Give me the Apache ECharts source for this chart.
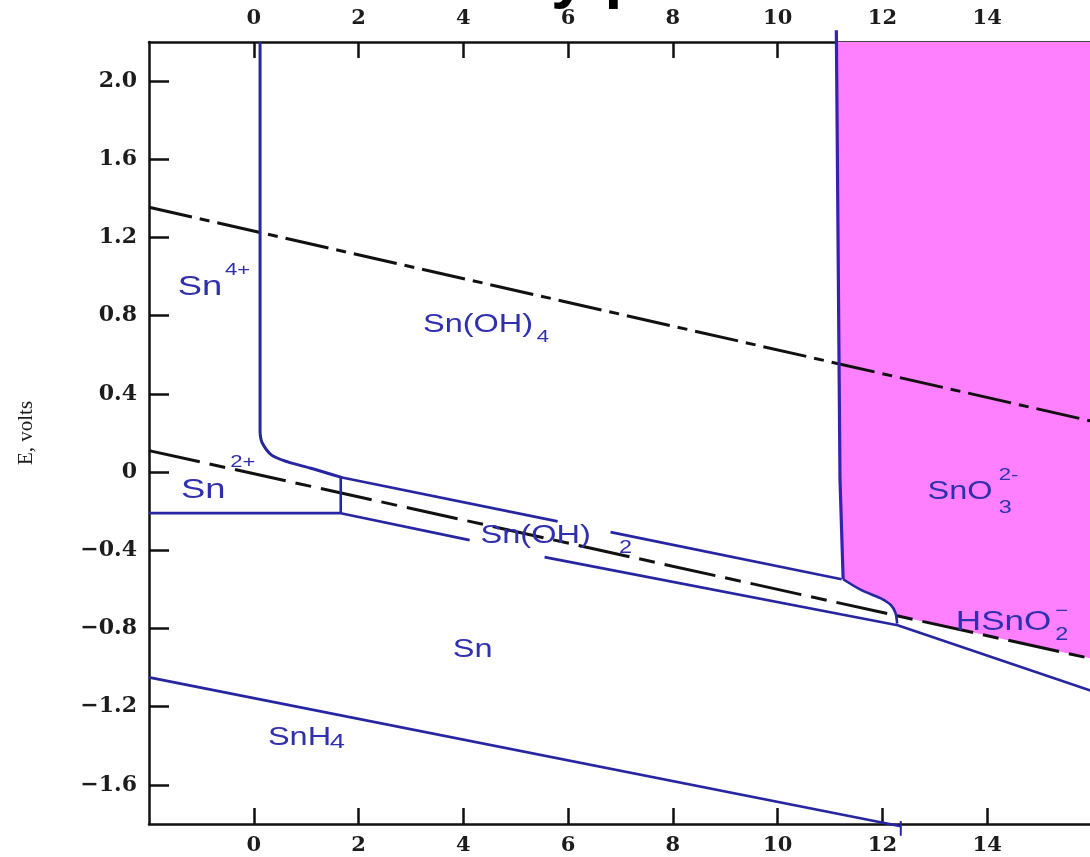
<!DOCTYPE html>
<html><head><meta charset="utf-8">
<script src="https://cdn.jsdelivr.net/npm/echarts@6/dist/echarts.min.js"></script>
<style>html,body{margin:0;padding:0;background:#fff}#c{width:1090px;height:857px}</style>
</head><body><div id="c"></div>
<script>
// ---- axis ticks ----
const xTicks = [0, 2, 4, 6, 8, 10, 12, 14];
const yTicks = [-1.6, -1.2, -0.8, -0.4, 0, 0.4, 0.8, 1.2, 1.6, 2.0];

// ---- water stability lines (pH, E) ----
const waterO2 = [[-2, 1.355], [16, 0.26]];
const waterH2 = [[-2, 0.11], [16, -0.955]];

// ---- tin boundaries (pH, E) ----
const sn4Vertical = [[0.12, 2.2], [0.12, 0.20]];
const sn4Curve = [[0.12, 0.20], [0.16, 0.15], [0.34, 0.087], [0.66, 0.051], [1.09, 0.020], [1.66, -0.026]];
const upperA = [[1.66, -0.026], [5.8, -0.252]];
const upperB = [[6.81, -0.307], [11.22, -0.548]];
const sn2Horizontal = [[-2, -0.21], [1.66, -0.21]];
const sn2Vertical = [[1.66, -0.21], [1.66, -0.02]];
const lowerA = [[1.66, -0.21], [4.12, -0.348]];
const lowerB = [[5.55, -0.435], [12.29, -0.783], [16, -1.12]];
const sno3Vertical = [[11.12, 2.26], [11.19, -0.04], [11.25, -0.548]];
const sno3Curve = [[11.25, -0.548], [11.6, -0.604], [11.96, -0.645], [12.16, -0.68], [12.25, -0.721], [12.28, -0.775]];
const snh4Line = [[-2, -1.05], [12.35, -1.811]];
const snh4Tick = [[12.35, -1.785], [12.35, -1.86]];

// ---- shaded SnO3(2-) / HSnO2(-) region ----
const pinkRegion = [[11.12, 2.2], [11.19, -0.04], [11.25, -0.548], [11.6, -0.604], [11.96, -0.645],
  [12.16, -0.68], [12.25, -0.721], [12.26, -0.734], [16, -0.955], [16, 2.2]];

// ---- region labels: pH, E, text, size ----
const textLabels = [
  [-1.45, 0.946, 'Sn', 28], [-0.55, 1.03, '4+', 17],
  [3.23, 0.752, 'Sn(OH)', 25], [5.4, 0.69, '4', 17],
  [-1.39, -0.092, 'Sn', 28], [-0.45, 0.051, '2+', 17],
  [4.33, -0.327, 'Sn(OH)', 25], [6.97, -0.389, '2', 18],
  [12.86, -0.102, 'SnO', 25], [14.22, -0.015, '2-', 17], [14.22, -0.184, '3', 18],
  [13.40, -0.767, 'HSnO', 27], [15.3, -0.71, '\u2212', 17], [15.3, -0.834, '2', 18],
  [3.80, -0.91, 'Sn', 25],
  [0.27, -1.36, 'SnH', 25], [1.45, -1.38, '4', 21]
];

const blue = '#2626a2';
const labelColor = '#3030ae';
const axisFont = {fontFamily: 'DejaVu Serif', fontWeight: 'bold', fontSize: 21, color: '#1c1c1c'};

function xAxisDef(pos, margin) {
  return {
    type: 'value', position: pos, min: -2, max: 16, interval: 2,
    axisLine: {show: true, onZero: false, lineStyle: {color: '#111', width: 2.5}},
    axisTick: {show: true, inside: true, length: 16, customValues: xTicks, lineStyle: {color: '#111', width: 2.5}},
    axisLabel: Object.assign({show: true, margin: margin, customValues: xTicks}, axisFont),
    splitLine: {show: false}
  };
}

function seg(data, extra) {
  return Object.assign({
    type: 'line', data: data, showSymbol: false, symbol: 'none', silent: true, z: 3,
    lineStyle: {color: blue, width: 2.6}, animation: false
  }, extra || {});
}

const chart = echarts.init(document.getElementById('c'), null, {renderer: 'canvas'});
chart.setOption({
  animation: false,
  backgroundColor: '#fff',
  grid: {left: 149, right: -2, top: 42, bottom: 33, containLabel: false, outerBoundsMode: 'none'},
  xAxis: [xAxisDef('bottom', 11), xAxisDef('top', 13)],
  yAxis: [{
    type: 'value', position: 'left', min: -1.8, max: 2.2,
    name: 'E, volts', nameLocation: 'middle', nameGap: 112, nameRotate: 90,
    nameTextStyle: {fontFamily: 'Liberation Serif', fontSize: 21, color: '#1c1c1c'},
    axisLine: {show: true, onZero: false, lineStyle: {color: '#111', width: 2.5}},
    axisTick: {show: true, inside: true, length: 20, customValues: yTicks, lineStyle: {color: '#111', width: 2.5}},
    axisLabel: Object.assign({
      show: true, margin: 12, customValues: yTicks,
      formatter: function (v) { return v === 0 ? '0' : (v < 0 ? '\u2212' + (-v).toFixed(1) : v.toFixed(1)); }
    }, axisFont, {fontSize: 22}),
    splitLine: {show: false}
  }],
  series: [
    {
      type: 'custom', data: [pinkRegion[0]], silent: true, z: 1, animation: false,
      renderItem: function (params, api) {
        return {type: 'polygon', shape: {points: pinkRegion.map(function (p) { return api.coord(p); })},
          style: {fill: '#ff80ff'}};
      }
    },
    seg(waterO2, {z: 2, lineStyle: {color: '#111', width: 3, type: [44, 8, 10, 8]}}),
    seg(waterH2, {z: 2, lineStyle: {color: '#111', width: 3, type: [52, 10, 16, 10]}}),
    seg(sn4Vertical, {lineStyle: {color: blue, width: 3}}),
    seg(sn4Curve, {smooth: 0.3, lineStyle: {color: blue, width: 3}}),
    seg(upperA), seg(upperB),
    seg(sn2Horizontal), seg(sn2Vertical),
    seg(lowerA), seg(lowerB),
    seg(sno3Vertical, {clip: false, lineStyle: {color: '#3a20b0', width: 3.2}}),
    seg(sno3Curve, {smooth: 0.3}),
    seg(snh4Line, {clip: false}),
    seg(snh4Tick, {clip: false, lineStyle: {color: blue, width: 2}})
  ]
});

const els = textLabels.map(function (d) {
  const p = chart.convertToPixel({gridIndex: 0}, [d[0], d[1]]);
  return {
    type: 'text', x: p[0], y: p[1], scaleX: 1.3, silent: true, z: 10,
    style: {text: d[2], fill: labelColor, fontSize: d[3], fontFamily: 'Liberation Sans',
      align: 'left', verticalAlign: 'middle', textAlign: 'left', textVerticalAlign: 'middle'}
  };
});
// cropped title fragment at the top edge
els.push({
  type: 'text', x: 551, y: -22, silent: true, z: 10,
  style: {text: 'y p', fill: '#000', fontSize: 64, fontWeight: 'bold', fontFamily: 'Liberation Sans',
    align: 'left', verticalAlign: 'middle', textAlign: 'left', textVerticalAlign: 'middle'}
});
chart.setOption({graphic: {elements: els}});
</script>
</body></html>
